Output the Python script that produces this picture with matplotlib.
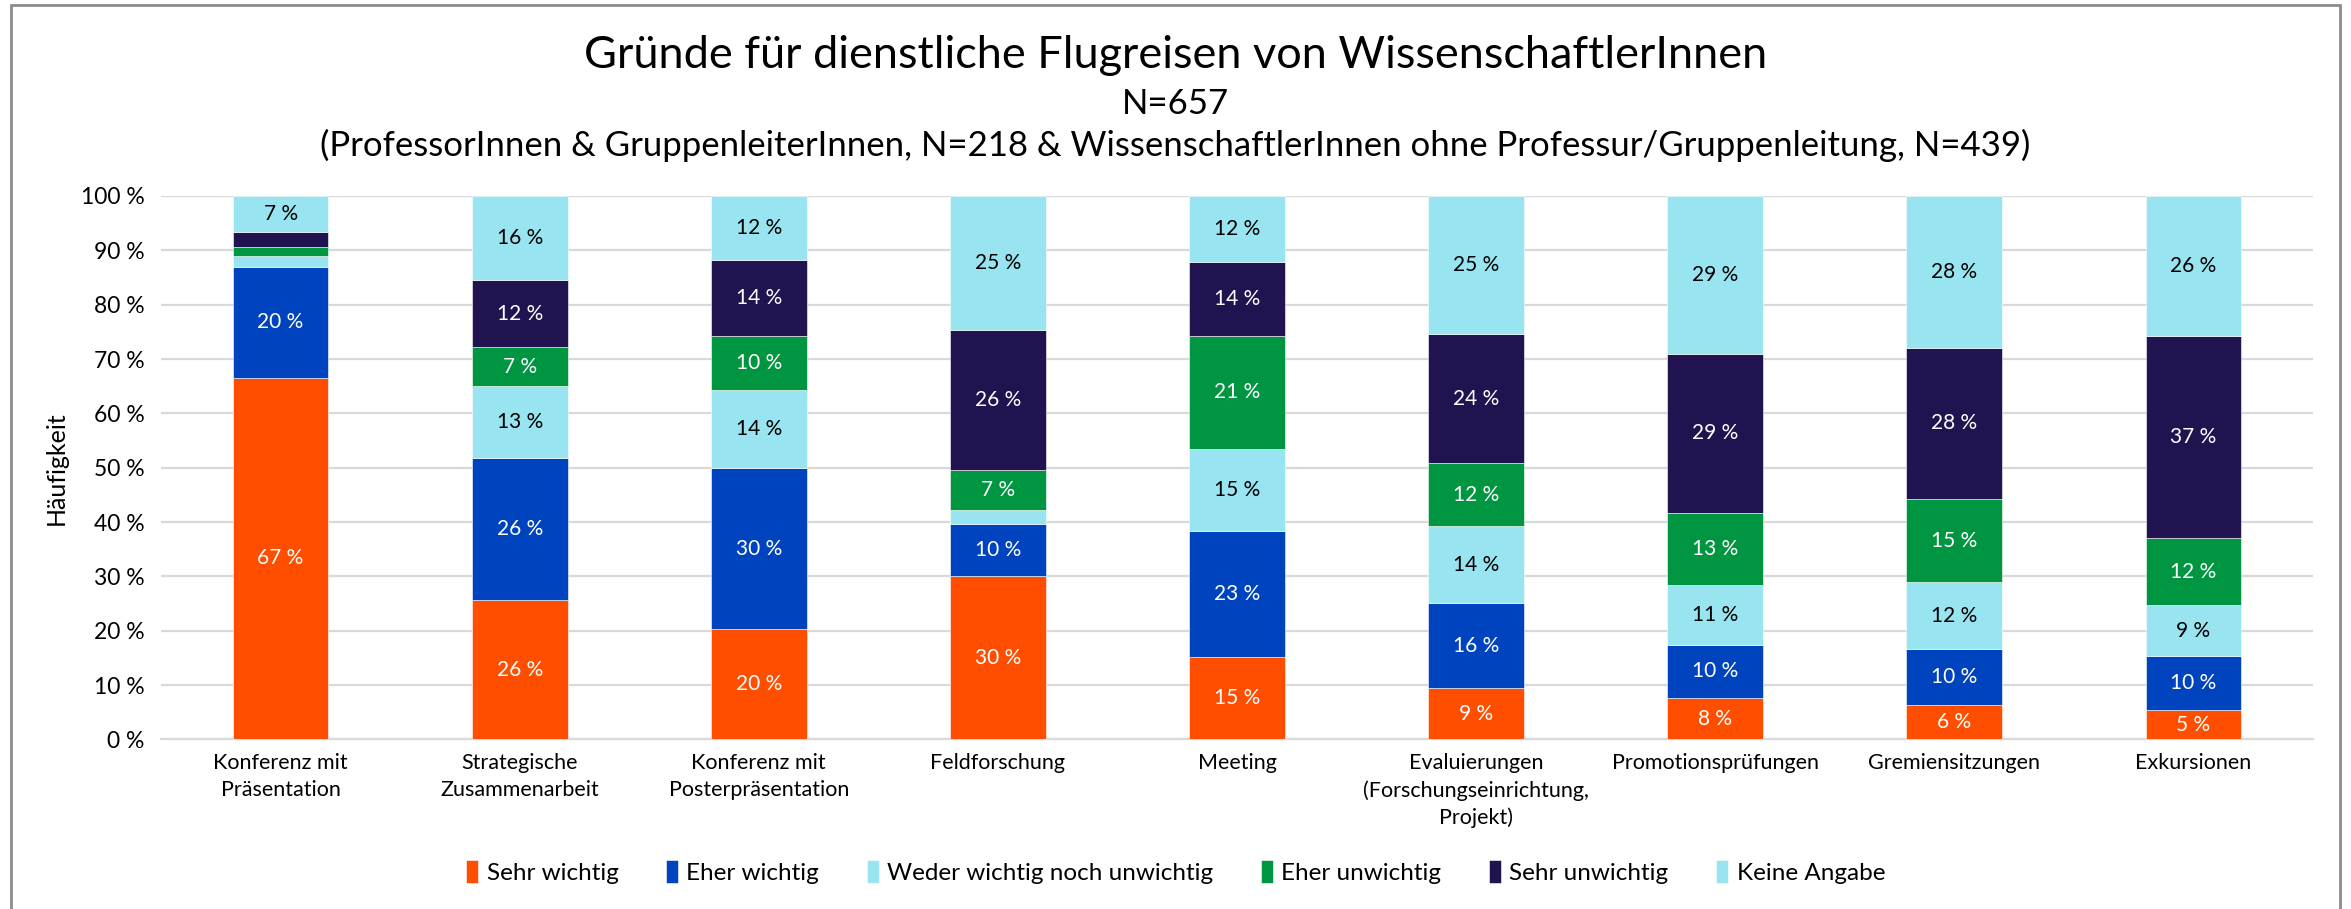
import matplotlib
matplotlib.use("Agg")
import matplotlib.pyplot as plt
import numpy as np

plt.rcParams['font.family'] = ['Lato', 'DejaVu Sans']

categories = [
    "Konferenz mit\nPräsentation",
    "Strategische\nZusammenarbeit",
    "Konferenz mit\nPosterpräsentation",
    "Feldforschung",
    "Meeting",
    "Evaluierungen\n(Forschungseinrichtung,\nProjekt)",
    "Promotionsprüfungen",
    "Gremiensitzungen",
    "Exkursionen",
]
series_names = ["Sehr wichtig", "Eher wichtig", "Weder wichtig noch unwichtig",
                "Eher unwichtig", "Sehr unwichtig", "Keine Angabe"]
sehr_wichtig = [66.6, 25.6, 20.3, 30.0, 15.2, 9.4, 7.7, 6.4, 5.4]
eher_wichtig = [20.3, 26.2, 29.6, 9.6, 23.1, 15.7, 9.7, 10.2, 9.9]
weder = [2.1, 13.2, 14.4, 2.6, 15.2, 14.1, 11.1, 12.4, 9.4]
eher_unwichtig = [1.6, 7.2, 10.0, 7.3, 20.7, 11.6, 13.2, 15.2, 12.3]
sehr_unwichtig = [2.7, 12.3, 13.9, 25.9, 13.6, 23.8, 29.3, 27.9, 37.3]
keine_angabe = [6.7, 15.5, 11.8, 24.6, 12.2, 25.4, 29.0, 27.9, 25.7]
yticks = [0, 10, 20, 30, 40, 50, 60, 70, 80, 90, 100]

series = [sehr_wichtig, eher_wichtig, weder, eher_unwichtig, sehr_unwichtig, keine_angabe]
colors = ["#FF4E00", "#0043BE", "#98E4F0", "#009540", "#21134F", "#98E4F0"]
text_colors = ["white", "white", "black", "white", "white", "black"]

fig = plt.figure(figsize=(23.51, 9.09), dpi=100)
ax = fig.add_axes([0.0685, 0.1865, 0.9153, 0.5979])

x = np.arange(len(categories))
bottom = np.zeros(len(categories))
handles = []
for vals, col, tc, name in zip(series, colors, text_colors, series_names):
    vals = np.array(vals)
    bars = ax.bar(x, vals, width=0.4, bottom=bottom, color=col, label=name,
                  edgecolor="white", linewidth=0.4, zorder=3)
    handles.append(bars)
    for xi, b, v in zip(x, bottom, vals):
        if v >= 4:
            ax.text(xi, b + v / 2, f"{int(round(v))} %", ha="center", va="center",
                    color=tc, fontsize=15, zorder=4)
    bottom += vals

ax.set_xlim(-0.5, len(categories) - 0.5)
ax.set_ylim(0, 100)
ax.set_yticks(yticks)
ax.set_yticklabels([f"{t} %" for t in yticks], fontsize=16.5)
ax.set_xticks(x)
ax.set_xticklabels(categories, fontsize=15.5, linespacing=1.42)
ax.tick_params(axis="y", length=0, pad=12)
ax.tick_params(axis="x", length=0, pad=10)
ax.yaxis.grid(True, color="#D9D9D9", linewidth=1.6, zorder=0)
ax.set_axisbelow(True)
for s in ["top", "right", "left"]:
    ax.spines[s].set_visible(False)
ax.spines["bottom"].set_color("#D9D9D9")
ax.spines["bottom"].set_linewidth(1.6)
ax.set_ylabel("Häufigkeit", fontsize=18, labelpad=9)

fig.text(0.5, 0.939, "Gründe für dienstliche Flugreisen von WissenschaftlerInnen",
         ha="center", va="center", fontsize=32.5)
fig.text(0.5, 0.886, "N=657", ha="center", va="center", fontsize=25)
fig.text(0.5, 0.840, "(ProfessorInnen & GruppenleiterInnen, N=218 & WissenschaftlerInnen ohne Professur/Gruppenleitung, N=439)",
         ha="center", va="center", fontsize=25)

leg = fig.legend(handles=handles, labels=series_names, loc="center",
                 bbox_to_anchor=(0.5, 1 - 872 / 909), ncol=6, frameon=False,
                 fontsize=17.5, handlelength=0.5, handleheight=1.1,
                 handletextpad=0.35, columnspacing=1.95)

border = plt.Rectangle((11 / 2351, -0.01), (2340 - 11) / 2351, 1 - 5 / 909 + 0.01,
                       transform=fig.transFigure, fill=False, edgecolor="#8C8C8C",
                       linewidth=2)
fig.patches.append(border)

fig.savefig("out.png", dpi=100)
